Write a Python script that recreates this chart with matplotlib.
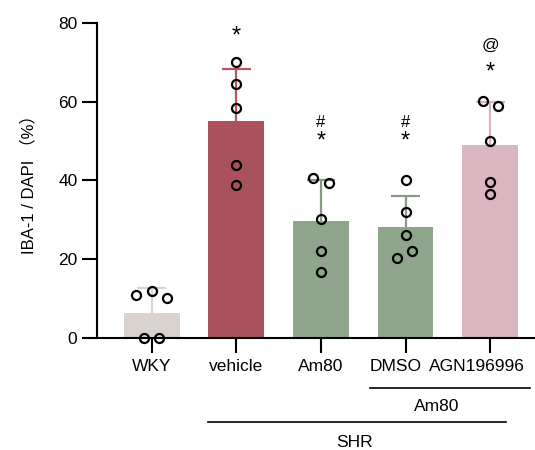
import numpy as np
import matplotlib
matplotlib.use('Agg')
from matplotlib import pyplot as plt
from matplotlib.transforms import ScaledTranslation

plt.rcParams['font.family'] = ['Liberation Sans', 'Noto Sans CJK SC', 'DejaVu Sans']

groups = ['WKY', 'vehicle', 'Am80', 'DMSO', 'AGN196996']
means = [6.4, 55.1, 29.7, 28.2, 49.0]
upper = [12.8, 68.4, 40.1, 36.1, 59.8]
points = [
    [10.9, 11.9, 10.1, 0.0, 0.0],
    [70.2, 64.4, 58.5, 43.9, 38.8],
    [40.5, 39.3, 30.2, 22.2, 16.7],
    [40.1, 31.9, 26.2, 22.2, 20.2],
    [60.2, 58.9, 50.1, 39.7, 36.5],
]
jitter = [
    [-0.19, 0.0, 0.18, -0.09, 0.08],
    [0, 0, 0, 0, 0],
    [-0.09, 0.09, 0, 0, 0],
    [0, 0, 0, 0.08, -0.1],
    [-0.09, 0.09, 0, 0, 0],
]

bar_colors = ['#d8d3ce', '#a9525b', '#8fa58c', '#8fa58c', '#dab6c1']
err_colors = ['#d9d4cf', '#b8545f', '#869a84', '#869a84', '#dcb2c0']

fig = plt.figure(figsize=(5.35, 4.5), dpi=100)
ax = fig.add_axes([0.181, 0.249, 0.819, 0.7])

x = np.arange(len(groups))
ax.bar(x, means, width=0.66, color=bar_colors, zorder=1)
cap = 0.17
for i in x:
    # upper-only error bar with a single cap
    ax.vlines(i, means[i], upper[i], color=err_colors[i], lw=1.6, zorder=2)
    ax.hlines(upper[i], i - cap, i + cap, color=err_colors[i], lw=1.6, zorder=2)
    ax.plot(i + np.array(jitter[i]), points[i], 'o', ms=6.5, mfc='none', mec='black',
            mew=1.6, clip_on=False, zorder=3)

ax.text(1, 76.5, '*', ha='center', va='center', fontsize=17)
ax.text(2, 50.0, '*', ha='center', va='center', fontsize=17)
ax.text(2, 54.8, '#', ha='center', va='center', fontsize=12)
ax.text(3, 50.0, '*', ha='center', va='center', fontsize=17)
ax.text(3, 54.8, '#', ha='center', va='center', fontsize=12)
ax.text(4, 67.5, '*', ha='center', va='center', fontsize=17)
ax.text(4, 74.3, '@', ha='center', va='center', fontsize=12.5)

ax.set_xlim(-0.65, 4.53)
ax.set_ylim(0, 80)
ax.set_yticks([0, 20, 40, 60, 80])
ax.set_xticks(x)
ax.set_xticklabels(groups)
ax.tick_params(axis='both', labelsize=12.5, length=10.5, width=1.5)
ax.tick_params(axis='x', pad=5)
# last two labels sit left of their ticks so they fit the figure
labels = ax.get_xticklabels()
for lab, dx in [(labels[3], -0.10), (labels[4], -0.13)]:
    lab.set_transform(lab.get_transform() + ScaledTranslation(dx, 0, fig.dpi_scale_trans))
ax.spines['top'].set_visible(False)
ax.spines['right'].set_visible(False)
for s in ['left', 'bottom']:
    ax.spines[s].set_linewidth(1.5)
ax.set_ylabel('IBA-1 / DAPI （%）', fontsize=12, labelpad=16)

# group brackets below the axis
ax.plot([2.58, 4.47], [-12.7, -12.7], color='black', lw=1.2, clip_on=False)
ax.text(3.37, -17.3, 'Am80', ha='center', va='center', fontsize=12.5)
ax.plot([0.66, 4.19], [-21.3, -21.3], color='black', lw=1.2, clip_on=False)
ax.text(2.40, -26.6, 'SHR', ha='center', va='center', fontsize=12.5)

fig.savefig('out.png', dpi=100)
